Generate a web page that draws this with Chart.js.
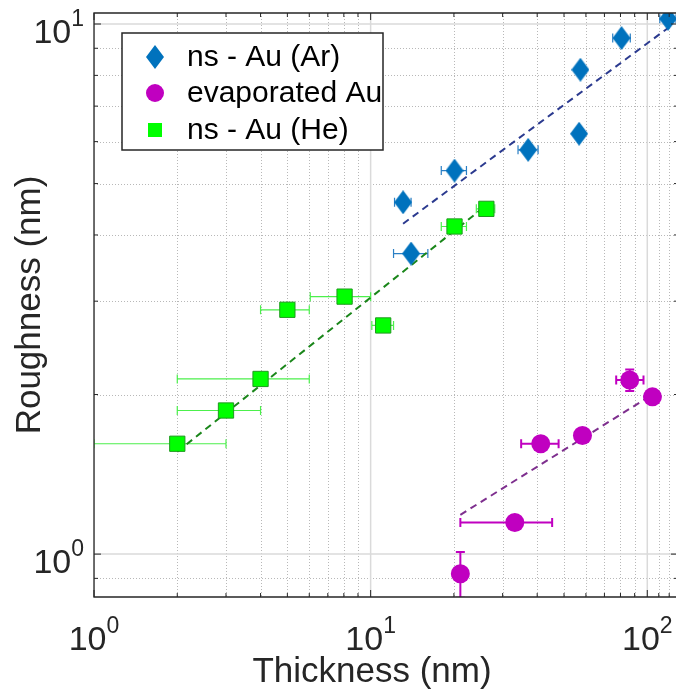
<!DOCTYPE html>
<html lang="en">
<head>
<meta charset="UTF-8">
<title>Roughness vs Thickness</title>
<script src="https://cdn.jsdelivr.net/npm/chart.js@4.4.0/dist/chart.umd.min.js"></script>
<style>
  html, body { margin: 0; padding: 0; background: #fff; }
  .chart-container { position: relative; width: 676px; height: 693px; }
</style>
</head>
<body>
<div class="chart-container"><canvas id="roughChart"></canvas></div>
<script>
// ns - Au (Ar)
const arThickness = [13.1, 14.0, 20.1, 37.1, 56.7, 57.3, 80.7, 118.9];
const arRoughness = [4.61, 3.69, 5.29, 5.79, 6.21, 8.20, 9.41, 10.23];
const arThickLow  = [12.2, 12.1, 18.0, 34.1, null, null, 75.0, 111.0];
const arThickHigh = [14.0, 16.1, 22.2, 40.3, null, null, 86.8, 127.0];

// evaporated Au
const evThickness = [21.1, 33.2, 41.2, 58.3, 86.4, 104.4];
const evRoughness = [0.918, 1.147, 1.615, 1.674, 2.13, 1.98];
const evThickLow  = [null, 21.1, 35.0, null, 77.2, null];
const evThickHigh = [null, 45.3, 47.8, null, 96.9, null];
const evRoughLow  = [0.827, null, null, null, 2.03, null];
const evRoughHigh = [1.009, null, null, null, 2.23, null];

// ns - Au (He)
const heThickness = [2.0, 3.0, 4.0, 5.0, 8.05, 11.1, 20.1, 26.2];
const heRoughness = [1.615, 1.866, 2.14, 2.89, 3.06, 2.70, 4.15, 4.48];
const heThickLow  = [1.0, 2.0, 2.0, 4.0, 6.05, 10.1, 18.0, 24.1];
const heThickHigh = [3.0, 4.0, 6.0, 6.0, 10.0, 12.1, 22.2, 28.1];

// power-law fits (end points)
const arFitX = [13.1, 118.9];
const arFitY = [4.20, 9.83];
const heFitX = [2.0, 25.5];
const heFitY = [1.56, 4.50];
const evFitX = [21.1, 104.4];
const evFitY = [1.186, 2.0];

// axes
const xRange = [1, 127];
const yRange = [0.83, 10.49];
const xDecades = [1, 10, 100];
const xDecadeExp = ['0', '1', '2'];
const yDecades = [1, 10];
const yDecadeExp = ['0', '1'];
const xMinor = [2, 3, 4, 5, 6, 7, 8, 9, 20, 30, 40, 50, 60, 70, 80, 90, 110, 120];
const yMinor = [0.9, 2, 3, 4, 5, 6, 7, 8, 9];

const seriesLabels = ['ns - Au (Ar)', 'evaporated Au', 'ns - Au (He)'];

const FONT = '"Liberation Sans", Arial, sans-serif';
const AXIS_COLOR = '#262626';

function points(xs, ys) {
  return xs.map((x, i) => ({ x: x, y: ys[i] }));
}

function diamondImage(w, h, color) {
  const c = document.createElement('canvas');
  c.width = w; c.height = h;
  const g = c.getContext('2d');
  g.fillStyle = color;
  g.beginPath();
  g.moveTo(w / 2, 0);
  g.lineTo(w, h / 2);
  g.lineTo(w / 2, h);
  g.lineTo(0, h / 2);
  g.closePath();
  g.fill();
  return c;
}

const diamond = diamondImage(18, 24, '#0072bd');

const errorSets = [
  { xs: arThickness, ys: arRoughness, xl: arThickLow, xh: arThickHigh, yl: null, yh: null, color: '#2a7fc4', width: 1.2 },
  { xs: heThickness, ys: heRoughness, xl: heThickLow, xh: heThickHigh, yl: null, yh: null, color: '#4cf04c', width: 1.2 },
  { xs: evThickness, ys: evRoughness, xl: evThickLow, xh: evThickHigh, yl: evRoughLow, yh: evRoughHigh, color: '#c000c0', width: 2 }
];

// grid below everything, error bars below markers
const backdrop = {
  id: 'backdrop',
  beforeDatasetsDraw(chart) {
    const { ctx, chartArea: a, scales: { x, y } } = chart;
    ctx.save();
    ctx.beginPath();
    ctx.rect(a.left, a.top, a.right - a.left, a.bottom - a.top);
    ctx.clip();

    // minor grid, dotted
    ctx.strokeStyle = '#b8b8b8';
    ctx.lineWidth = 1;
    ctx.setLineDash([1, 2]);
    xMinor.forEach(v => {
      const px = Math.round(x.getPixelForValue(v)) + 0.5;
      ctx.beginPath(); ctx.moveTo(px, a.top); ctx.lineTo(px, a.bottom); ctx.stroke();
    });
    yMinor.forEach(v => {
      const py = Math.round(y.getPixelForValue(v)) + 0.5;
      ctx.beginPath(); ctx.moveTo(a.left, py); ctx.lineTo(a.right, py); ctx.stroke();
    });
    // major grid, solid
    ctx.setLineDash([]);
    ctx.strokeStyle = '#dadada';
    ctx.lineWidth = 1.5;
    xDecades.forEach(v => {
      const px = x.getPixelForValue(v);
      ctx.beginPath(); ctx.moveTo(px, a.top); ctx.lineTo(px, a.bottom); ctx.stroke();
    });
    yDecades.forEach(v => {
      const py = y.getPixelForValue(v);
      ctx.beginPath(); ctx.moveTo(a.left, py); ctx.lineTo(a.right, py); ctx.stroke();
    });

    // error bars
    const cap = 4.5;
    errorSets.forEach(s => {
      ctx.strokeStyle = s.color;
      ctx.lineWidth = s.width;
      s.xs.forEach((xv, i) => {
        const px = x.getPixelForValue(xv);
        const py = y.getPixelForValue(s.ys[i]);
        if (s.xl && s.xl[i] != null) {
          const l = x.getPixelForValue(s.xl[i]);
          const r = x.getPixelForValue(s.xh[i]);
          ctx.beginPath();
          ctx.moveTo(l, py); ctx.lineTo(r, py);
          ctx.moveTo(l, py - cap); ctx.lineTo(l, py + cap);
          ctx.moveTo(r, py - cap); ctx.lineTo(r, py + cap);
          ctx.stroke();
        }
        if (s.yl && s.yl[i] != null) {
          const b = y.getPixelForValue(s.yl[i]);
          const t = y.getPixelForValue(s.yh[i]);
          ctx.beginPath();
          ctx.moveTo(px, b); ctx.lineTo(px, t);
          ctx.moveTo(px - cap, b); ctx.lineTo(px + cap, b);
          ctx.moveTo(px - cap, t); ctx.lineTo(px + cap, t);
          ctx.stroke();
        }
      });
    });
    ctx.restore();
  }
};

function drawPower(ctx, exp, x, baseline, align) {
  ctx.font = '34px ' + FONT;
  const wb = ctx.measureText('10').width;
  ctx.font = '23px ' + FONT;
  const we = ctx.measureText(exp).width;
  const start = align === 'center' ? x - (wb + we) / 2 : x - (wb + we);
  ctx.textAlign = 'left';
  ctx.textBaseline = 'alphabetic';
  ctx.font = '34px ' + FONT;
  ctx.fillText('10', start, baseline);
  ctx.font = '23px ' + FONT;
  ctx.fillText(exp, start + wb, baseline - 17);
}

// box, ticks, labels, titles and legend
const frame = {
  id: 'frame',
  afterDraw(chart) {
    const { ctx, chartArea: a, scales: { x, y } } = chart;
    const rightEdge = a.right + 2;
    ctx.save();
    ctx.strokeStyle = AXIS_COLOR;
    ctx.lineWidth = 1.3;
    ctx.beginPath();
    ctx.moveTo(rightEdge, a.top); ctx.lineTo(a.left, a.top);
    ctx.lineTo(a.left, a.bottom); ctx.lineTo(rightEdge, a.bottom);
    ctx.stroke();

    ctx.lineWidth = 1;
    const tick = (vals, len) => {
      vals.forEach(v => {
        const px = x.getPixelForValue(v);
        ctx.beginPath();
        ctx.moveTo(px, a.bottom); ctx.lineTo(px, a.bottom - len);
        ctx.moveTo(px, a.top); ctx.lineTo(px, a.top + len);
        ctx.stroke();
      });
    };
    const tickY = (vals, len) => {
      vals.forEach(v => {
        const py = y.getPixelForValue(v);
        ctx.beginPath();
        ctx.moveTo(a.left, py); ctx.lineTo(a.left + len, py);
        ctx.moveTo(rightEdge, py); ctx.lineTo(rightEdge - len, py);
        ctx.stroke();
      });
    };
    tick(xMinor, 4); tick(xDecades, 7);
    tickY(yMinor, 4); tickY(yDecades, 7);

    // tick labels
    ctx.fillStyle = AXIS_COLOR;
    xDecades.forEach((v, i) => drawPower(ctx, xDecadeExp[i], x.getPixelForValue(v), 650, 'center'));
    yDecades.forEach((v, i) => drawPower(ctx, yDecadeExp[i], 84, y.getPixelForValue(v) + 18.5, 'right'));

    // axis titles
    ctx.font = '35px ' + FONT;
    ctx.textAlign = 'center';
    ctx.textBaseline = 'alphabetic';
    ctx.fillText('Thickness (nm)', 372, 682);
    ctx.save();
    ctx.translate(40, (a.top + a.bottom) / 2);
    ctx.rotate(-Math.PI / 2);
    ctx.fillText('Roughness (nm)', 0, 0);
    ctx.restore();

    // legend
    const box = { l: 122, t: 33, w: 261, h: 117 };
    ctx.fillStyle = '#fff';
    ctx.fillRect(box.l, box.t, box.w, box.h);
    ctx.strokeStyle = AXIS_COLOR;
    ctx.lineWidth = 1.5;
    ctx.strokeRect(box.l, box.t, box.w, box.h);
    const rows = [57, 93, 130];
    const mx = 155;
    ctx.drawImage(diamond, mx - diamond.width / 2, rows[0] - diamond.height / 2);
    ctx.fillStyle = '#c000c0';
    ctx.beginPath(); ctx.arc(mx, rows[1], 9, 0, Math.PI * 2); ctx.fill();
    ctx.fillStyle = '#00ff00';
    ctx.fillRect(mx - 7, rows[2] - 7, 14, 14);
    ctx.fillStyle = '#000';
    ctx.font = '30px ' + FONT;
    ctx.textAlign = 'left';
    ctx.textBaseline = 'middle';
    seriesLabels.forEach((t, i) => ctx.fillText(t, 187, rows[i] + 1));
    ctx.restore();
  }
};

new Chart(document.getElementById('roughChart'), {
  type: 'scatter',
  data: {
    datasets: [
      {
        label: seriesLabels[0],
        data: points(arThickness, arRoughness),
        pointStyle: diamond,
        pointRadius: 10
      },
      {
        label: seriesLabels[1],
        data: points(evThickness, evRoughness),
        pointStyle: 'circle',
        pointRadius: 9.5,
        backgroundColor: '#c000c0',
        borderColor: '#c000c0',
        borderWidth: 0
      },
      {
        label: seriesLabels[2],
        data: points(heThickness, heRoughness),
        pointStyle: 'rect',
        pointRadius: 10.8,
        backgroundColor: '#00ff00',
        borderColor: '#1f9a1f',
        borderWidth: 1
      },
      {
        label: 'fit Ar',
        data: points(arFitX, arFitY),
        showLine: true,
        pointRadius: 0,
        borderColor: '#2b3a8f',
        borderWidth: 2,
        borderDash: [7, 5]
      },
      {
        label: 'fit evaporated',
        data: points(evFitX, evFitY),
        showLine: true,
        pointRadius: 0,
        borderColor: '#7e2f8e',
        borderWidth: 2,
        borderDash: [7, 5]
      },
      {
        label: 'fit He',
        data: points(heFitX, heFitY),
        showLine: true,
        pointRadius: 0,
        borderColor: '#1a861a',
        borderWidth: 2,
        borderDash: [7, 5]
      }
    ]
  },
  options: {
    responsive: true,
    maintainAspectRatio: false,
    animation: false,
    events: [],
    layout: { autoPadding: false, padding: { top: 13, right: 0, left: 0, bottom: 0 } },
    plugins: { legend: { display: false }, tooltip: { enabled: false } },
    scales: {
      x: {
        type: 'logarithmic',
        min: xRange[0],
        max: xRange[1],
        ticks: { display: false },
        grid: { display: false },
        border: { display: false },
        afterFit(scale) { scale.height = 96; }
      },
      y: {
        type: 'logarithmic',
        min: yRange[0],
        max: yRange[1],
        ticks: { display: false },
        grid: { display: false },
        border: { display: false },
        afterFit(scale) { scale.width = 94; }
      }
    }
  },
  plugins: [backdrop, frame]
});
</script>
</body>
</html>
